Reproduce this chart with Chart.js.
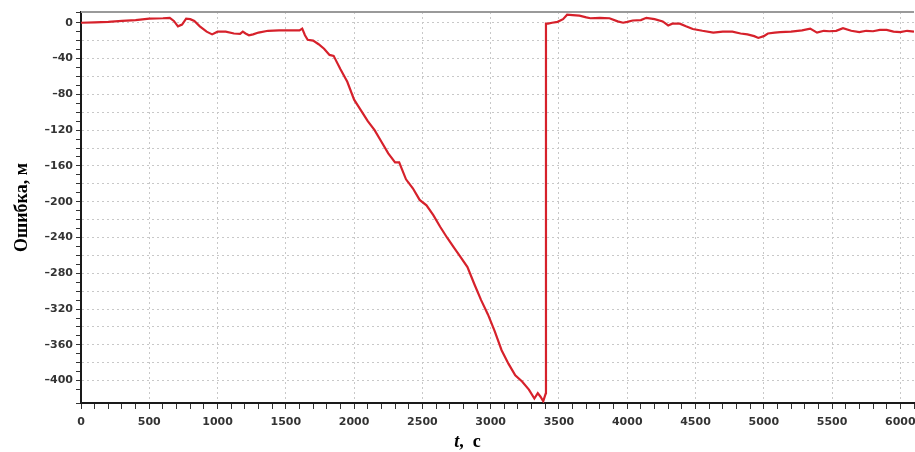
<!DOCTYPE html>
<html>
<head>
<meta charset="utf-8">
<script src="https://cdn.jsdelivr.net/npm/chart.js@4/dist/chart.umd.min.js"></script>
<style>
  html, body { margin:0; padding:0; background:#fff; }
  #wrap { width:915px; height:452px; position:relative; }
</style>
</head>
<body>
<div id="wrap"><canvas id="errChart"></canvas></div>
<script>
// time, s
const tSec = [0,100,200,300,400,500,600,650,680,710,740,770,800,830,870,920,960,1000,1060,1120,1165,1185,1205,1230,1260,1300,1370,1450,1530,1600,1620,1640,1660,1700,1740,1780,1820,1850,1900,1950,2000,2050,2100,2150,2200,2250,2300,2330,2380,2430,2480,2530,2580,2630,2680,2730,2780,2830,2880,2930,2980,3030,3080,3130,3180,3230,3280,3320,3345,3365,3385,3404,3405,3420,3450,3490,3530,3560,3600,3650,3700,3730,3800,3870,3930,3970,4000,4040,4100,4140,4200,4260,4300,4330,4385,4430,4480,4550,4630,4700,4770,4830,4880,4930,4960,5000,5030,5080,5120,5200,5280,5340,5390,5440,5480,5530,5580,5640,5700,5750,5800,5850,5900,5950,6000,6050,6100];
// error, m
const errM = [0,0.5,1,2,3,4.5,5,5.5,2,-4,-2,4.5,4,2,-4,-10,-13,-10,-10,-12,-12.5,-10,-12,-14,-13,-11,-9,-8.5,-8.5,-8.5,-6.5,-14,-19,-20,-24,-29,-36,-37,-52,-66,-86,-98,-110,-120,-133,-146,-156,-156,-175,-185,-198,-204,-215,-228,-240,-251,-262,-273,-292,-310,-326,-345,-366,-381,-394,-401,-410,-420,-414,-418,-423,-414,-1,-1,0,1,4,9,8.5,8,6,5,5.5,5,1.5,0,1,2.5,3,5.5,4,1.5,-3,-1,-1,-4,-7,-9,-11,-10,-10,-12,-13,-15,-17,-15,-12,-11,-10.5,-10,-8.5,-6.5,-11,-9,-9.5,-9,-6,-9,-10.5,-9,-9.5,-8,-8,-10,-10.5,-9,-10];

const xLabelStep = 500;
const yLabelStep = 40;

const tickFont = { family:'DejaVu Sans', size:11, weight:'bold' };

// top frame line + x title with italic t
const framePlugin = {
  id:'frame',
  afterDraw(chart) {
    const { ctx, chartArea } = chart;
    ctx.save();
    ctx.strokeStyle = '#9a9a9a';
    ctx.lineWidth = 2;
    ctx.beginPath();
    ctx.moveTo(chartArea.left, chartArea.top);
    ctx.lineTo(chartArea.right, chartArea.top);
    ctx.stroke();

    const cx = (chartArea.left + chartArea.right) / 2 - 30;
    const cy = 442;
    ctx.fillStyle = '#000';
    ctx.textBaseline = 'middle';
    ctx.font = 'italic bold 18px "Liberation Serif"';
    const w1 = ctx.measureText('t').width;
    ctx.font = 'bold 18px "Liberation Serif"';
    const w2 = ctx.measureText(',  c').width;
    let x0 = cx - (w1 + w2) / 2;
    ctx.font = 'italic bold 18px "Liberation Serif"';
    ctx.fillText('t', x0, cy);
    ctx.font = 'bold 18px "Liberation Serif"';
    ctx.fillText(',  c', x0 + w1, cy);
    ctx.restore();
  }
};

new Chart(document.getElementById('errChart'), {
  type:'line',
  data: {
    datasets: [{
      data: tSec.map((t, i) => ({ x:t, y:errM[i] })),
      borderColor:'#d6212b',
      borderWidth:2.2,
      pointRadius:0,
      tension:0,
      fill:false
    }]
  },
  options: {
    responsive:true, maintainAspectRatio:false, animation:false,
    layout:{ padding:{ top:12, right:1, left:0, bottom:0 } },
    plugins:{ legend:{ display:false }, tooltip:{ enabled:false } },
    scales:{
      x:{
        type:'linear', min:0, max:6100,
        border:{ color:'#1a1a1a', width:2, dash:[2,3] },
        grid:{
          color: c => (c.tick && c.tick.value % xLabelStep === 0) ? '#c8c8c8' : 'rgba(0,0,0,0)',
          lineWidth:1,
          tickColor:'#333', tickLength:6, drawTicks:true
        },
        ticks:{
          stepSize:100, autoSkip:false, maxRotation:0, padding:7,
          color:'#333', font:tickFont,
          callback: v => (v % xLabelStep === 0 ? String(v) : '')
        },
        afterFit(scale) { scale.height = 49; scale.paddingLeft = 0; scale.paddingRight = 0; }
      },
      y:{
        min:-425, max:12,
        border:{ color:'#1a1a1a', width:2, dash:[2,3] },
        grid:{
          color: c => (c.tick && c.tick.value % 20 === 0) ? '#c8c8c8' : 'rgba(0,0,0,0)',
          lineWidth:1,
          tickColor:'#333', tickLength:5, drawTicks:true
        },
        ticks:{
          stepSize:10, autoSkip:false, padding:3,
          color:'#333', font:tickFont,
          callback: v => (v % yLabelStep === 0 ? String(v).replace('-', '\u2013') : '')
        },
        title:{
          display:true, text:'Ошибка, м', color:'#000',
          font:{ family:'Liberation Serif', size:18, weight:'bold' },
          padding:{ top:12, bottom:0 }
        },
        afterFit(scale) { scale.width = 81; }
      }
    }
  },
  plugins:[framePlugin]
});
</script>
</body>
</html>
